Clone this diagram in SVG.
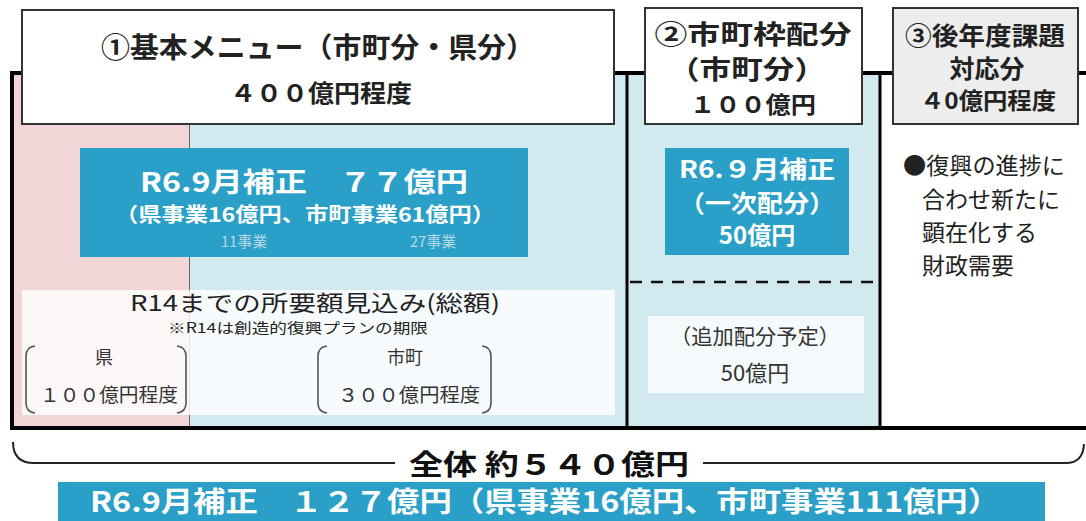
<svg xmlns="http://www.w3.org/2000/svg" width="1086" height="521" viewBox="0 0 1086 521">
<style>
text{font-family:"Noto Sans CJK JP","Noto Sans",sans-serif;}
.b{font-weight:bold;}
.dk{fill:#222;}
.wt{fill:#ffffff;}
.hdr{fill:#ffffff;stroke:#333;stroke-width:2;}
.blue{fill:#2a9fc8;}
.frame{fill:none;stroke:#000;stroke-width:4;}
.brk{fill:none;stroke:#555;stroke-width:1.6;}
</style>
<rect width="1086" height="521" fill="#ffffff"/>
<g id="backgrounds">
<rect x="14" y="75" width="176" height="351" fill="#f2d5d6"/>
<rect x="190" y="75" width="437" height="351" fill="#d3e9f0"/>
<rect x="627" y="75" width="253" height="351" fill="#d3e9f0"/>
<rect x="880" y="75" width="206" height="351" fill="#ffffff"/>
<line x1="189.5" y1="75" x2="189.5" y2="426" stroke="#666" stroke-width="1"/>
</g>
<g id="connectors">
<path class="frame" d="M12 430 L12 73 L1086 73"/>
<line class="frame" x1="10" y1="428" x2="1086" y2="428"/>
<line x1="627" y1="73" x2="627" y2="428" stroke="#000" stroke-width="3"/>
<line x1="880" y1="73" x2="880" y2="428" stroke="#000" stroke-width="3"/>
<line x1="630" y1="282" x2="878" y2="282" stroke="#111" stroke-width="2.5" stroke-dasharray="12 9"/>
<path d="M13 442 Q13 463 34 463 L395 463 M703 463 L1066 463 Q1083 463 1084 444" fill="none" stroke="#222" stroke-width="2"/>
</g>
<g id="node-basic">
<rect class="hdr" x="22" y="10" width="592" height="114"/>
<text class="b dk" x="318" y="58" font-size="28" text-anchor="middle" textLength="434" lengthAdjust="spacingAndGlyphs">①基本メニュー（市町分・県分）</text>
<text class="b dk" x="321" y="102" font-size="24" text-anchor="middle" textLength="182" lengthAdjust="spacingAndGlyphs">４００億円程度</text>
</g>
<g id="node-shicho">
<rect class="hdr" x="645" y="8" width="217" height="116"/>
<text class="b dk" x="753" y="44" font-size="26" text-anchor="middle" textLength="197" lengthAdjust="spacingAndGlyphs">②市町枠配分</text>
<text class="b dk" x="747" y="79" font-size="26" text-anchor="middle" textLength="158" lengthAdjust="spacingAndGlyphs">（市町分）</text>
<text class="b dk" x="753" y="113" font-size="23" text-anchor="middle" textLength="126" lengthAdjust="spacingAndGlyphs">１００億円</text>
</g>
<g id="node-later">
<rect x="893" y="8" width="185" height="116" fill="#ededed" stroke="#333" stroke-width="2"/>
<text class="b dk" x="985" y="45" font-size="25" text-anchor="middle" textLength="160" lengthAdjust="spacingAndGlyphs">③後年度課題</text>
<text class="b dk" x="987" y="78" font-size="25" text-anchor="middle">対応分</text>
<text class="b dk" x="988" y="109" font-size="23" text-anchor="middle" textLength="136" lengthAdjust="spacingAndGlyphs">４0億円程度</text>
</g>
<g id="node-r6-basic">
<rect class="blue" x="80" y="148" width="448" height="109"/>
<text class="b wt" x="304" y="192" font-size="27" text-anchor="middle" textLength="328" lengthAdjust="spacingAndGlyphs">R6.9月補正　７７億円</text>
<text class="b wt" x="305" y="222" font-size="20" text-anchor="middle" textLength="380" lengthAdjust="spacingAndGlyphs">（県事業16億円、市町事業61億円）</text>
<text x="244" y="247" font-size="15" fill="#b8d9e6" text-anchor="middle">11事業</text>
<text x="433" y="247" font-size="15" fill="#b8d9e6" text-anchor="middle">27事業</text>
</g>
<g id="node-estimate">
<rect x="22" y="290" width="593" height="125" fill="#ffffff" fill-opacity="0.82"/>
<text class="dk" x="315" y="311" font-size="22" text-anchor="middle" textLength="370" lengthAdjust="spacingAndGlyphs">R14までの所要額見込み(総額)</text>
<text class="dk" x="298" y="333" font-size="14" text-anchor="middle" textLength="260" lengthAdjust="spacingAndGlyphs">※R14は創造的復興プランの期限</text>
<text fill="#333" x="104" y="364" font-size="18" text-anchor="middle">県</text>
<text fill="#333" x="109" y="402" font-size="19" text-anchor="middle" textLength="138" lengthAdjust="spacingAndGlyphs">１００億円程度</text>
<text fill="#333" x="405" y="364" font-size="18" text-anchor="middle">市町</text>
<text fill="#333" x="409" y="402" font-size="19" text-anchor="middle" textLength="142" lengthAdjust="spacingAndGlyphs">３００億円程度</text>
<path class="brk" d="M35 346 Q26 347 26 356 L26 403 Q26 412 35 413"/>
<path class="brk" d="M177 346 Q186 347 186 356 L186 403 Q186 412 177 413"/>
<path class="brk" d="M327 346 Q318 347 318 356 L318 403 Q318 412 327 413"/>
<path class="brk" d="M482 346 Q491 347 491 356 L491 403 Q491 412 482 413"/>
</g>
<g id="node-r6-shicho">
<rect class="blue" x="665" y="148" width="184" height="107"/>
<text class="b wt" x="757" y="178" font-size="24" text-anchor="middle" textLength="156" lengthAdjust="spacingAndGlyphs">R6.９月補正</text>
<text class="b wt" x="757" y="212" font-size="24" text-anchor="middle" textLength="156" lengthAdjust="spacingAndGlyphs">（一次配分）</text>
<text class="b wt" x="757" y="244" font-size="24" text-anchor="middle">50億円</text>
</g>
<g id="node-additional">
<rect x="648" y="316" width="216" height="77" fill="#f5fafc"/>
<text fill="#333" x="755" y="344" font-size="21" text-anchor="middle" textLength="170" lengthAdjust="spacingAndGlyphs">（追加配分予定）</text>
<text fill="#333" x="755" y="381" font-size="22" text-anchor="middle">50億円</text>
</g>
<g id="node-later-text">
<text class="dk" x="903" y="174" font-size="23" textLength="162" lengthAdjust="spacingAndGlyphs">●復興の進捗に</text>
<text class="dk" x="922" y="208" font-size="23">合わせ新たに</text>
<text class="dk" x="922" y="241" font-size="23">顕在化する</text>
<text class="dk" x="922" y="274" font-size="23">財政需要</text>
</g>
<g id="node-total">
<text class="b" fill="#111" x="549" y="475" font-size="28" text-anchor="middle" textLength="280" lengthAdjust="spacingAndGlyphs">全体 約５４０億円</text>
</g>
<g id="node-r6-total">
<rect class="blue" x="58" y="482" width="987" height="39"/>
<text class="b wt" x="545" y="512" font-size="28" text-anchor="middle" textLength="910" lengthAdjust="spacingAndGlyphs">R6.9月補正　１２７億円（県事業16億円、市町事業111億円）</text>
</g>
</svg>
